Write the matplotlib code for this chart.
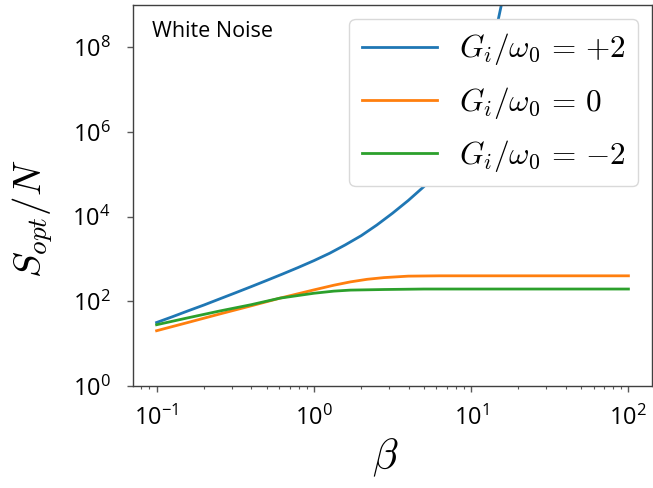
import matplotlib
matplotlib.use("Agg")
import matplotlib.pyplot as plt
from matplotlib.ticker import FixedLocator, NullLocator, LogLocator, FixedFormatter

plt.rcParams['mathtext.fontset'] = 'cm'
plt.rcParams['font.family'] = ['Open Sans', 'DejaVu Sans']

# S_opt/N against beta, one curve per gain ratio G_i/w_0
beta_plus = [0.1, 0.126, 0.158, 0.2, 0.251, 0.316, 0.398, 0.501, 0.631, 0.794,
             1.0, 1.26, 1.58, 2.0, 2.51, 3.16, 3.98, 5.01, 6.31, 7.94,
             10.0, 11.2, 12.6, 14.1, 15.5, 17.8]
s_plus = [31.6, 43.2, 59.3, 81.8, 113.5, 158, 221, 311, 440, 628,
          912, 1365, 2140, 3550, 6310, 12000, 24000, 51300, 1.23e5, 3.55e5,
          1.41e6, 3.98e6, 1.78e7, 1.78e8, 9.3e8, 7.4e9]

beta_zero = [0.1, 0.158, 0.251, 0.398, 0.61, 1.0, 1.34, 1.71, 2.18, 2.79, 3.98, 6.31, 10, 100]
s_zero = [20.2, 31.6, 50, 78, 119, 186, 240, 288, 331, 363, 393, 400, 400, 400]

beta_minus = [0.1, 0.158, 0.251, 0.398, 0.61, 1.0, 1.34, 1.71, 2.79, 5.0, 10, 100]
s_minus = [28, 40.7, 58.9, 83, 119, 155, 174, 184, 190, 195, 195, 195]

labels = [r'$G_i/\omega_0\,=\,{+2}$', r'$G_i/\omega_0\,=\,0$', r'$G_i/\omega_0\,=\,{-2}$']

xticks = [0.1, 1, 10, 100]
xticklabels = [r'$\mathregular{10^{-1}}$', r'$\mathregular{10^{0}}$',
               r'$\mathregular{10^{1}}$', r'$\mathregular{10^{2}}$']
yticks = [1, 1e2, 1e4, 1e6, 1e8]
yticklabels = [r'$\mathregular{10^{0}}$', r'$\mathregular{10^{2}}$', r'$\mathregular{10^{4}}$',
               r'$\mathregular{10^{6}}$', r'$\mathregular{10^{8}}$']

fig = plt.figure(figsize=(6.53, 4.88), dpi=100)
ax = fig.add_axes([0.2037, 0.209, 0.7948, 0.781])

ax.plot(beta_plus, s_plus, color='#1f77b4', lw=2, label=labels[0])
ax.plot(beta_zero, s_zero, color='#ff7f0e', lw=2, label=labels[1])
ax.plot(beta_minus, s_minus, color='#2ca02c', lw=2, label=labels[2])

ax.set_xscale('log')
ax.set_yscale('log')
ax.set_xlim(10 ** -1.15, 10 ** 2.15)
ax.set_ylim(1, 1e9)

ax.xaxis.set_major_locator(FixedLocator(xticks))
ax.xaxis.set_major_formatter(FixedFormatter(xticklabels))
ax.xaxis.set_minor_locator(LogLocator(base=10, subs=range(2, 10)))
ax.yaxis.set_major_locator(FixedLocator(yticks))
ax.yaxis.set_major_formatter(FixedFormatter(yticklabels))
ax.yaxis.set_minor_locator(NullLocator())

for sp in ax.spines.values():
    sp.set_color('0.25')
    sp.set_linewidth(1.0)
ax.tick_params(axis='both', which='major', length=4, width=1, color='0.35', labelsize=17)
ax.tick_params(axis='x', which='minor', length=2.5, width=0.8, color='0.35')
ax.tick_params(axis='y', which='major', pad=12)
ax.tick_params(axis='x', which='major', pad=10)

ax.set_ylabel(r'$S_{opt}/N$', fontsize=28)
ax.yaxis.set_label_coords(-0.15, 0.44)
ax.set_xlabel(r'$\beta$', fontsize=30)
ax.xaxis.set_label_coords(0.486, -0.135)

ax.text(0.037, 0.93, 'White Noise', transform=ax.transAxes, fontsize=15.5, va='center')

leg = ax.legend(loc='upper right', fontsize=22.5, framealpha=1.0, handlelength=2.4,
                borderaxespad=0.45, labelspacing=0.55, handletextpad=0.7)
leg.get_frame().set_edgecolor('0.85')

fig.savefig('out.png', dpi=100)
